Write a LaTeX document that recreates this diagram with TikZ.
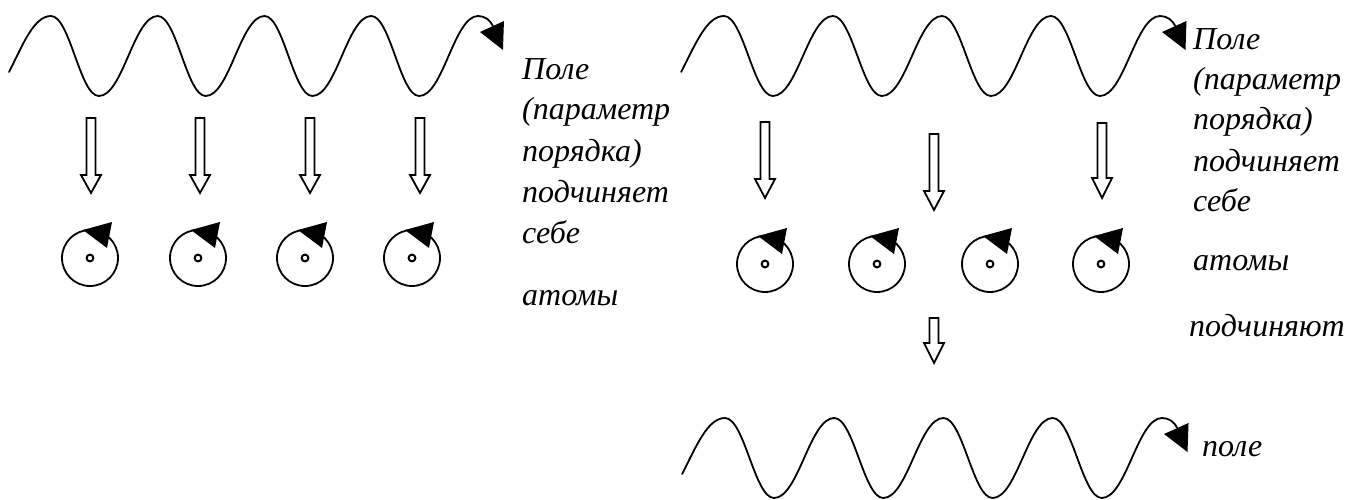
\documentclass[tikz,border=0pt]{standalone}
\usepackage{fontspec}
\setmainfont{Liberation Serif}
\tikzset{
  wave/.style={line width=1.8pt, line join=round, line cap=round},
  harrow/.style={draw, line width=1.8pt, fill=white, line join=miter},
  atomring/.style={draw, line width=1.8pt},
  nucleus/.style={draw, line width=2pt},
  lbl/.style={anchor=base west, inner sep=0pt, font=\fontsize{32}{38}\selectfont\itshape},
}
\newcommand\drawwave[3]{%
  \begin{scope}[shift={(#1,#2)}, xscale=#3]
    \draw[wave] (-42,56) .. controls (-28,28) and (-17,0) .. (0,0)
      \foreach \k in {0,1,2,3}{ .. controls ({107*\k+19},0) and ({107*\k+29},80) .. ({107*\k+48},80)
                                .. controls ({107*\k+72},80) and ({107*\k+83},0) .. ({107*\k+107},0) }
      .. controls (435,0) and (440,4) .. (443,10);
    \fill (430,16) -- (454,5) -- (453,34) -- cycle;
  \end{scope}}
\newcommand\hollowarrow[4]{%
  \draw[harrow] ({#1-4.5},#2) -- ({#1+4.5},#2) -- ({#1+4.5},#3) -- ({#1+10},#3)
    -- (#1,#4) -- ({#1-10},#3) -- ({#1-4.5},#3) -- cycle;}
\newcommand\atomsym[2]{%
  \draw[atomring] (#1,#2) circle[radius=28];
  \draw[nucleus] (#1,#2) circle[radius=3.4];
  \fill ({#1-7},{#2-28}) -- ({#1+22},{#2-36}) -- ({#1+17},{#2-10}) -- cycle;}
\begin{document}
\begin{tikzpicture}[x=1pt,y=-1pt]
\useasboundingbox (0,0) rectangle (1351,500);
% waves
\drawwave{51}{16}{0.9977}
\drawwave{724}{16}{1.0187}
\drawwave{725}{418}{1.021}
% left arrows
\hollowarrow{91}{118}{175}{193}
\hollowarrow{200}{118}{175}{193}
\hollowarrow{310}{118}{175}{193}
\hollowarrow{420}{118}{175}{193}
% right arrows
\hollowarrow{765}{122}{179}{198}
\hollowarrow{934}{134}{191}{210}
\hollowarrow{1102}{123}{178}{198}
\hollowarrow{934}{318}{343}{363}
% atoms
\atomsym{90}{258}
\atomsym{198}{258}
\atomsym{305}{258}
\atomsym{412}{258}
\atomsym{765}{264}
\atomsym{877}{264}
\atomsym{990}{264}
\atomsym{1101}{264}
% left text
\node[lbl] (l1) at (522,80) {Поле};
\node[lbl] (l2) at (522,120) {(параметр};
\node[lbl] (l3) at (522,161) {порядка)};
\node[lbl] (l4) at (522,202) {подчиняет};
\node[lbl] (l5) at (522,243) {себе};
\node[lbl] (l6) at (522,305) {атомы};
% right text
\node[lbl] (r1) at (1193,50) {Поле};
\node[lbl] (r2) at (1193,90) {(параметр};
\node[lbl] (r3) at (1193,130) {порядка)};
\node[lbl] (r4) at (1193,171) {подчиняет};
\node[lbl] (r5) at (1193,211) {себе};
\node[lbl] (r6) at (1193,270) {атомы};
\node[lbl] (r7) at (1189,336) {подчиняют};
\node[lbl] (r8) at (1202,456) {поле};
\end{tikzpicture}
\end{document}
